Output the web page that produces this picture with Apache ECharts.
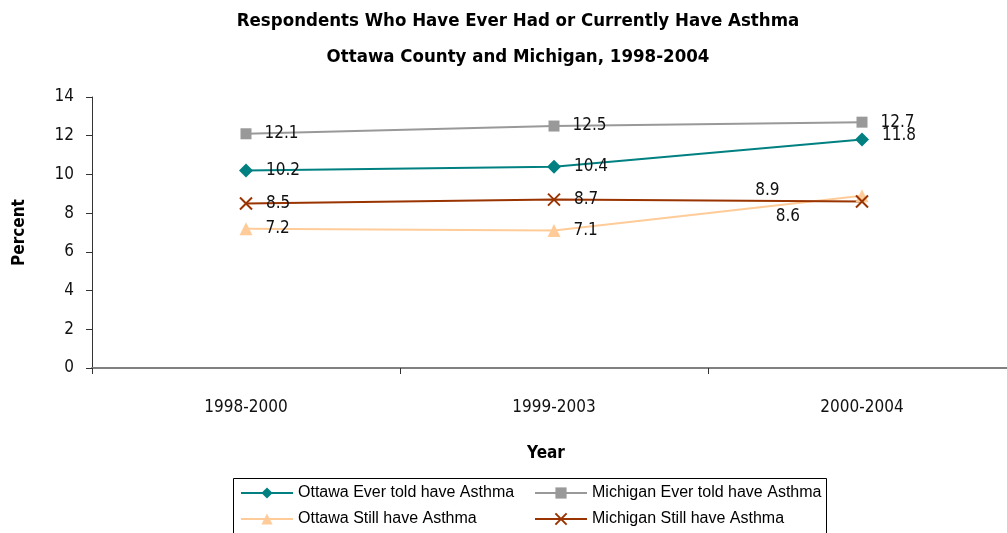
<!DOCTYPE html>
<html><head><meta charset="utf-8">
<script src="https://cdn.jsdelivr.net/npm/echarts@6/dist/echarts.min.js"></script>
<style>html,body{margin:0;padding:0;background:#fff;overflow:hidden}#c{width:1016px;height:533px}</style>
</head><body><div id="c"></div>
<script>
const categories = ['1998-2000', '1999-2003', '2000-2004'];
const ottawaEver = [10.2, 10.4, 11.8];
const michiganEver = [12.1, 12.5, 12.7];
const ottawaStill = [7.2, 7.1, 8.9];
const michiganStill = [8.5, 8.7, 8.6];
const yTicks = [0, 2, 4, 6, 8, 10, 12, 14];
const seriesNames = ['Ottawa Ever told have Asthma', 'Michigan Ever told have Asthma', 'Ottawa Still have Asthma', 'Michigan Still have Asthma'];

const FONT = "'DejaVu Sans Condensed', 'Liberation Sans Narrow', sans-serif";
const LFONT = "'Liberation Sans', Arial, sans-serif";
const chart = echarts.init(document.getElementById('c'));
const lbl = {show: true, position: 'right', distance: 13, color: '#111', fontSize: 17, fontFamily: FONT};

function mk(name, data, color, symbol, size, overrides, extraItem) {
  return {
    name, type: 'line', data: data.map((v, i) => overrides && overrides[i] ? {value: v, label: overrides[i]} : v),
    symbol, symbolSize: size, color, lineStyle: {color, width: 2},
    itemStyle: Object.assign({color, borderWidth: 0}, extraItem || {}), label: lbl, animation: false
  };
}

const legendCommon = {orient: 'vertical', top: 485, padding: 0, itemGap: 10, itemWidth: 52, itemHeight: 14,
  textStyle: {fontSize: 16, fontFamily: LFONT, color: '#000'}};

chart.setOption({
  backgroundColor: '#fff',
  title: {
    text: 'Respondents Who Have Ever Had or Currently Have Asthma\nOttawa County and Michigan, 1998-2004',
    left: 513, textAlign: 'center', top: -2,
    textStyle: {fontSize: 18.5, fontWeight: 'bold', fontFamily: FONT, color: '#000', lineHeight: 36}
  },
  grid: {left: 92, top: 97, right: 0, bottom: 165, containLabel: false},
  legend: [
    Object.assign({data: [seriesNames[0], seriesNames[2]], left: 240}, legendCommon),
    Object.assign({data: [seriesNames[1], seriesNames[3]], left: 534}, legendCommon)
  ],
  graphic: [{type: 'rect', shape: {x: 233.5, y: 478.5, width: 593, height: 60}, style: {fill: 'none', stroke: '#000', lineWidth: 1}, silent: true}],
  xAxis: {
    type: 'category', data: categories, boundaryGap: true,
    name: 'Year', nameLocation: 'middle', nameGap: 77,
    nameTextStyle: {fontSize: 17, fontWeight: 'bold', fontFamily: FONT, color: '#000', padding: [0, 16, 0, 0]},
    axisLine: {lineStyle: {color: '#808080', width: 2}},
    axisTick: {show: true, length: 6, lineStyle: {color: '#333', width: 1}},
    axisLabel: {fontSize: 17, fontFamily: FONT, color: '#111', margin: 31}
  },
  yAxis: {
    type: 'value', min: 0, max: 14, interval: 2,
    name: 'Percent', nameLocation: 'middle', nameGap: 64, nameRotate: 90,
    nameTextStyle: {fontSize: 17, fontWeight: 'bold', fontFamily: FONT, color: '#000'},
    axisLine: {show: true, lineStyle: {color: '#333', width: 1}},
    axisTick: {show: true, length: 6, lineStyle: {color: '#333'}},
    splitLine: {show: false},
    axisLabel: {fontSize: 17, fontFamily: FONT, color: '#111', margin: 18,
      formatter: v => yTicks.includes(v) ? String(v) : ''}
  },
  series: [
    mk(seriesNames[0], ottawaEver, '#008080', 'diamond', 14, {2: {offset: [0, -4]}}),
    mk(seriesNames[1], michiganEver, '#999999', 'rect', 11),
    mk(seriesNames[2], ottawaStill, '#FFCC99', 'triangle', 13, {2: {position: 'left', offset: [-63, -5]}}),
    mk(seriesNames[3], michiganStill, '#993300', 'path://M0,0L10,10M10,0L0,10', 12, {2: {position: 'left', offset: [-42, 15]}},
       {borderColor: '#993300', borderWidth: 2})
  ]
});
</script></body></html>
